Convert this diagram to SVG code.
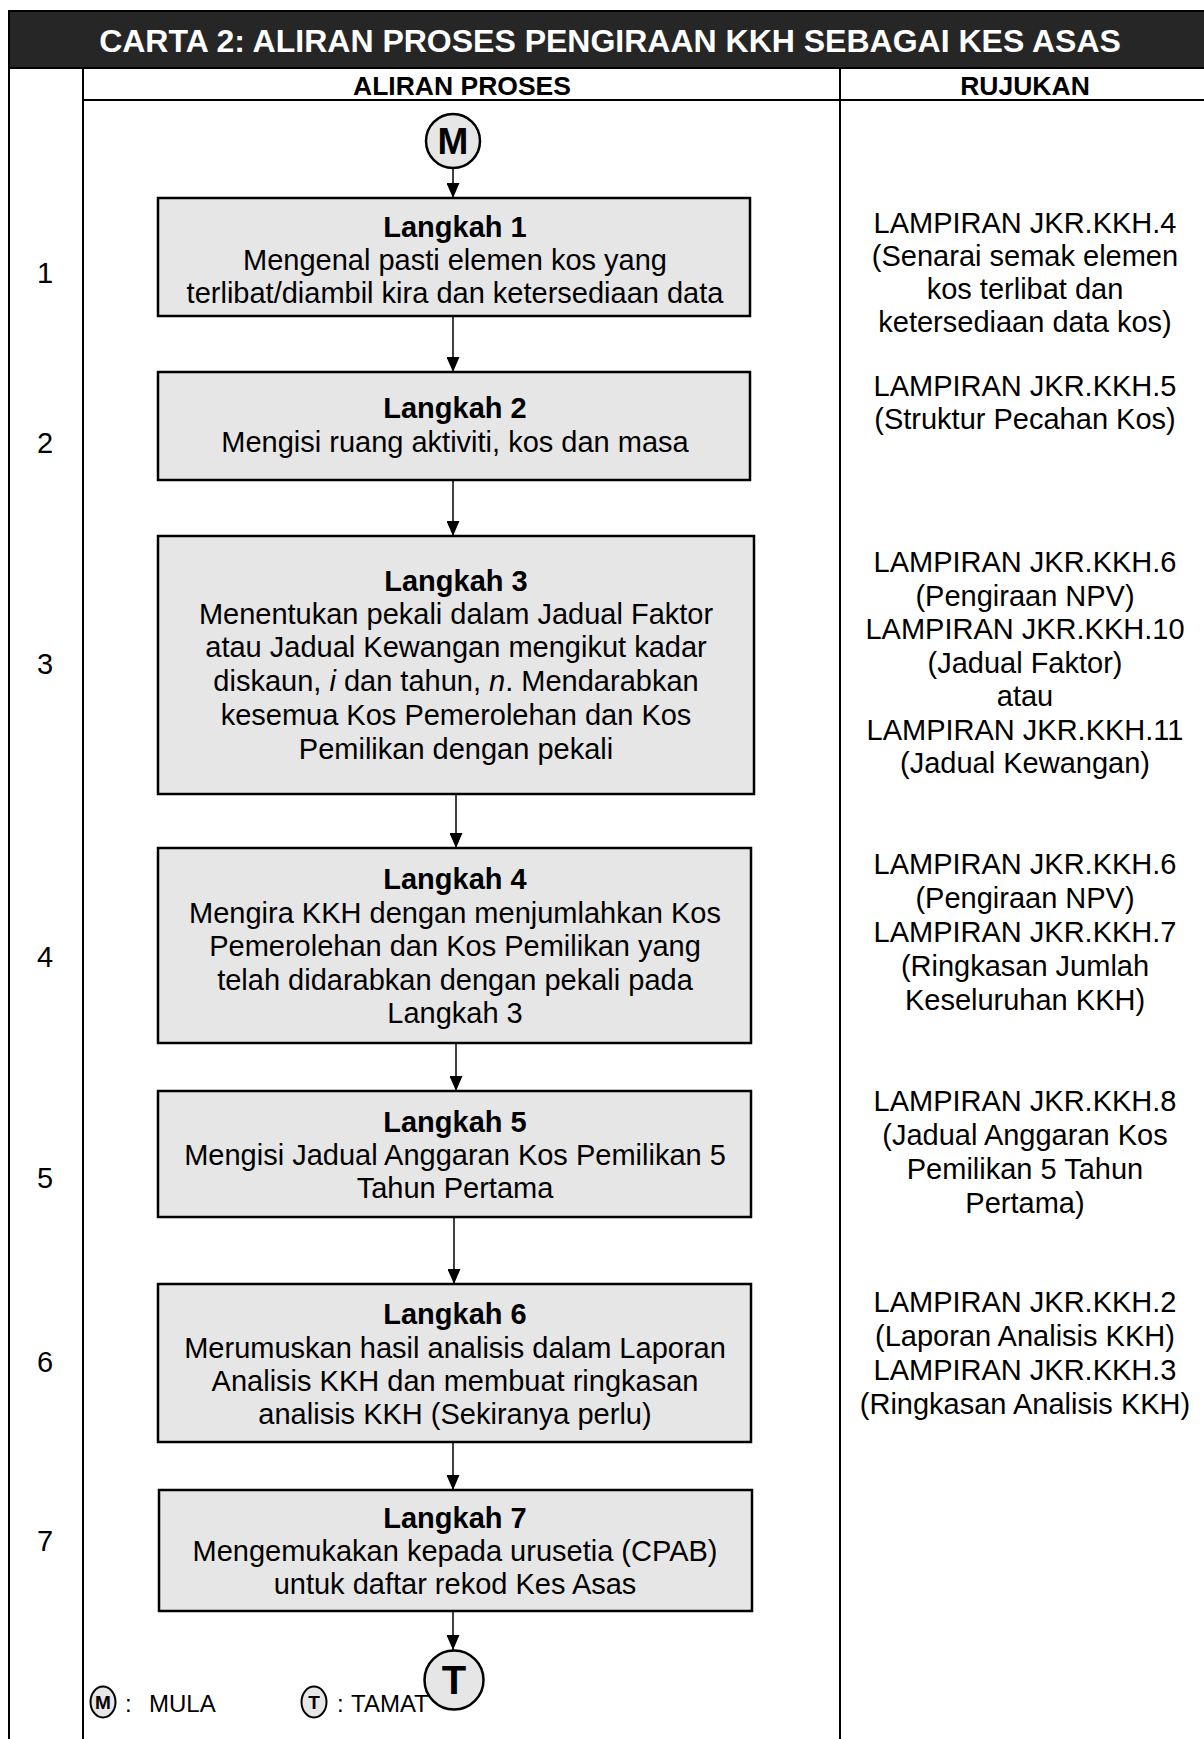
<svg xmlns="http://www.w3.org/2000/svg" width="1204" height="1739" viewBox="0 0 1204 1739">
<style>
text { font-family: "Liberation Sans", Arial, sans-serif; fill: #000; }
.title { font-size: 32px; font-weight: bold; fill: #fff; text-anchor: middle; }
.hdr { font-size: 26.5px; font-weight: bold; text-anchor: middle; }
.num { font-size: 29px; text-anchor: middle; }
.box { fill: #e6e6e6; stroke: #000; stroke-width: 2.5; }
.bt { font-size: 29px; text-anchor: middle; }
.bh { font-weight: bold; }
.ref { font-size: 29px; text-anchor: middle; }
.grid { stroke: #000; stroke-width: 2; fill: none; }
.conn { stroke: #000; stroke-width: 1.5; fill: none; marker-end: url(#arr); }
.circ { fill: #e6e6e6; stroke: #000; stroke-width: 2.5; }
.lcirc { fill: #e6e6e6; stroke: #000; stroke-width: 2; }
.leg { font-size: 24px; }
.ct { font-weight: bold; text-anchor: middle; }
</style>
<defs>
<marker id="arr" viewBox="0 0 15 13" refX="15" refY="6.5" markerWidth="15" markerHeight="13" markerUnits="userSpaceOnUse" orient="auto">
<path d="M0,0 L15,6.5 L0,13 z" fill="#000"/>
</marker>
</defs>

<g id="frame">
<rect x="9" y="11" width="1196" height="57" fill="#262626" stroke="#000" stroke-width="2"/>
<text class="title" x="610" y="52">CARTA 2: ALIRAN PROSES PENGIRAAN KKH SEBAGAI KES ASAS</text>
<line class="grid" x1="9" y1="11" x2="9" y2="1739"/>
<line class="grid" x1="83" y1="68" x2="83" y2="1739"/>
<line class="grid" x1="840" y1="68" x2="840" y2="1739"/>
<line class="grid" x1="83" y1="100" x2="1204" y2="100"/>
<text class="hdr" x="462" y="95">ALIRAN PROSES</text>
<text class="hdr" x="1025" y="95">RUJUKAN</text>
</g>

<g id="numbers">
<text class="num" x="45" y="283">1</text>
<text class="num" x="45" y="453">2</text>
<text class="num" x="45" y="674">3</text>
<text class="num" x="45" y="967">4</text>
<text class="num" x="45" y="1188">5</text>
<text class="num" x="45" y="1372">6</text>
<text class="num" x="45" y="1551">7</text>
</g>

<g id="start">
<circle class="circ" cx="453" cy="141" r="27"/>
<text class="ct" x="453" y="154" font-size="37">M</text>
</g>

<g id="step1">
<rect class="box" x="158" y="198" width="592" height="118"/>
<text class="bt bh" x="455" y="237">Langkah 1</text>
<text class="bt" x="455" y="270">Mengenal pasti elemen kos yang</text>
<text class="bt" x="455" y="303">terlibat/diambil kira dan ketersediaan data</text>
</g>

<g id="step2">
<rect class="box" x="158" y="372" width="592" height="108"/>
<text class="bt bh" x="455" y="418">Langkah 2</text>
<text class="bt" x="455" y="452">Mengisi ruang aktiviti, kos dan masa</text>
</g>

<g id="step3">
<rect class="box" x="158" y="536" width="596" height="258"/>
<text class="bt bh" x="456" y="591">Langkah 3</text>
<text class="bt" x="456" y="624">Menentukan pekali dalam Jadual Faktor</text>
<text class="bt" x="456" y="657">atau Jadual Kewangan mengikut kadar</text>
<text class="bt" x="456" y="691">diskaun, <tspan font-style="italic">i</tspan> dan tahun, <tspan font-style="italic">n</tspan>. Mendarabkan</text>
<text class="bt" x="456" y="725">kesemua Kos Pemerolehan dan Kos</text>
<text class="bt" x="456" y="759">Pemilikan dengan pekali</text>
</g>

<g id="step4">
<rect class="box" x="158" y="848" width="593" height="195"/>
<text class="bt bh" x="455" y="889">Langkah 4</text>
<text class="bt" x="455" y="923">Mengira KKH dengan menjumlahkan Kos</text>
<text class="bt" x="455" y="956">Pemerolehan dan Kos Pemilikan yang</text>
<text class="bt" x="455" y="990">telah didarabkan dengan pekali pada</text>
<text class="bt" x="455" y="1023">Langkah 3</text>
</g>

<g id="step5">
<rect class="box" x="158" y="1091" width="593" height="126"/>
<text class="bt bh" x="455" y="1132">Langkah 5</text>
<text class="bt" x="455" y="1165">Mengisi Jadual Anggaran Kos Pemilikan 5</text>
<text class="bt" x="455" y="1198">Tahun Pertama</text>
</g>

<g id="step6">
<rect class="box" x="158" y="1284" width="593" height="158"/>
<text class="bt bh" x="455" y="1324">Langkah 6</text>
<text class="bt" x="455" y="1358">Merumuskan hasil analisis dalam Laporan</text>
<text class="bt" x="455" y="1391">Analisis KKH dan membuat ringkasan</text>
<text class="bt" x="455" y="1424">analisis KKH (Sekiranya perlu)</text>
</g>

<g id="step7">
<rect class="box" x="159" y="1490" width="593" height="121"/>
<text class="bt bh" x="455" y="1528">Langkah 7</text>
<text class="bt" x="455" y="1561">Mengemukakan kepada urusetia (CPAB)</text>
<text class="bt" x="455" y="1594">untuk daftar rekod Kes Asas</text>
</g>

<g id="end">
<circle class="circ" cx="454" cy="1680" r="29.5"/>
<text class="ct" x="454" y="1694" font-size="40">T</text>
</g>

<g id="connectors">
<line class="conn" x1="453" y1="168" x2="453" y2="198"/>
<line class="conn" x1="453" y1="316" x2="453" y2="372"/>
<line class="conn" x1="453" y1="480" x2="453" y2="536"/>
<line class="conn" x1="456" y1="794" x2="456" y2="848"/>
<line class="conn" x1="456" y1="1043" x2="456" y2="1091"/>
<line class="conn" x1="454" y1="1217" x2="454" y2="1284"/>
<line class="conn" x1="453" y1="1442" x2="453" y2="1490"/>
<line class="conn" x1="453" y1="1611" x2="453" y2="1650"/>
</g>

<g id="references">
<text class="ref" x="1025" y="233">LAMPIRAN JKR.KKH.4</text>
<text class="ref" x="1025" y="266">(Senarai semak elemen</text>
<text class="ref" x="1025" y="299">kos terlibat dan</text>
<text class="ref" x="1025" y="332">ketersediaan data kos)</text>
<text class="ref" x="1025" y="396">LAMPIRAN JKR.KKH.5</text>
<text class="ref" x="1025" y="429">(Struktur Pecahan Kos)</text>
<text class="ref" x="1025" y="572">LAMPIRAN JKR.KKH.6</text>
<text class="ref" x="1025" y="606">(Pengiraan NPV)</text>
<text class="ref" x="1025" y="639">LAMPIRAN JKR.KKH.10</text>
<text class="ref" x="1025" y="673">(Jadual Faktor)</text>
<text class="ref" x="1025" y="706">atau</text>
<text class="ref" x="1025" y="740">LAMPIRAN JKR.KKH.11</text>
<text class="ref" x="1025" y="773">(Jadual Kewangan)</text>
<text class="ref" x="1025" y="874">LAMPIRAN JKR.KKH.6</text>
<text class="ref" x="1025" y="908">(Pengiraan NPV)</text>
<text class="ref" x="1025" y="942">LAMPIRAN JKR.KKH.7</text>
<text class="ref" x="1025" y="976">(Ringkasan Jumlah</text>
<text class="ref" x="1025" y="1010">Keseluruhan KKH)</text>
<text class="ref" x="1025" y="1111">LAMPIRAN JKR.KKH.8</text>
<text class="ref" x="1025" y="1145">(Jadual Anggaran Kos</text>
<text class="ref" x="1025" y="1179">Pemilikan 5 Tahun</text>
<text class="ref" x="1025" y="1213">Pertama)</text>
<text class="ref" x="1025" y="1312">LAMPIRAN JKR.KKH.2</text>
<text class="ref" x="1025" y="1346">(Laporan Analisis KKH)</text>
<text class="ref" x="1025" y="1380">LAMPIRAN JKR.KKH.3</text>
<text class="ref" x="1025" y="1414">(Ringkasan Analisis KKH)</text>
</g>

<g id="legend">
<ellipse class="lcirc" cx="103" cy="1702" rx="12.5" ry="15.5"/>
<text class="ct" x="103" y="1709" font-size="19">M</text>
<text class="leg" x="125" y="1712">:<tspan x="149">MULA</tspan></text>
<ellipse class="lcirc" cx="314" cy="1702" rx="12.5" ry="15.5"/>
<text class="ct" x="314" y="1709" font-size="19">T</text>
<text class="leg" x="337" y="1712">:<tspan x="351">TAMAT</tspan></text>
</g>
</svg>
